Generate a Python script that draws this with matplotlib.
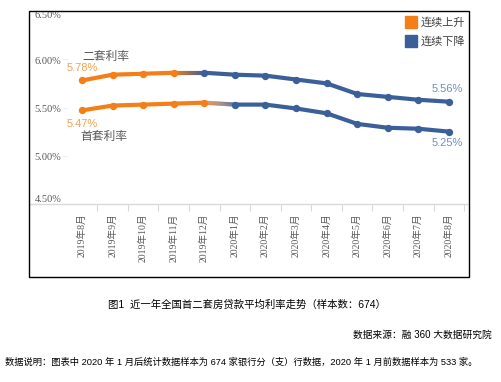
import matplotlib
matplotlib.use("Agg")
import matplotlib.pyplot as plt
import numpy as np
from matplotlib.collections import LineCollection
from matplotlib.patches import Rectangle
from matplotlib.colors import to_rgb
from matplotlib.transforms import offset_copy

plt.rcParams['font.family'] = ['Liberation Sans', 'Noto Sans CJK SC']

months = ["2019年8月", "2019年9月", "2019年10月", "2019年11月", "2019年12月",
          "2020年1月", "2020年2月", "2020年3月", "2020年4月", "2020年5月",
          "2020年6月", "2020年7月", "2020年8月"]
second_rate = [5.78, 5.84, 5.85, 5.86, 5.86, 5.84, 5.83, 5.79, 5.75, 5.64, 5.61, 5.58, 5.56]
first_rate = [5.47, 5.52, 5.53, 5.54, 5.55, 5.53, 5.53, 5.49, 5.44, 5.33, 5.29, 5.28, 5.25]
# last index of the "rising" stretch for each series
second_peak = 3
first_peak = 4
yticks = [4.5, 5.0, 5.5, 6.0, 6.5]

ORANGE = "#F47E17"
BLUE = "#3B5F98"
ORANGE_TXT = "#F5A150"
BLUE_TXT = "#7090C0"
GREY_TXT = "#595959"

fig = plt.figure(figsize=(5.01, 3.82), dpi=100)
W, H = 501, 382
ax = fig.add_axes([29 / W, 1 - 204 / H, 438 / W, 193 / H])


def draw_series(vals, k):
    x = np.arange(len(vals))
    y = np.array(vals)
    ax.plot(x[:k + 1], y[:k + 1], color=ORANGE, lw=3, solid_capstyle='round', zorder=3)
    ax.plot(x[k + 1:], y[k + 1:], color=BLUE, lw=3, solid_capstyle='round', zorder=3)
    # colour blend on the turning segment
    n = 30
    t = np.linspace(0, 1, n + 1)
    xs = x[k] + t * (x[k + 1] - x[k])
    ys = y[k] + t * (y[k + 1] - y[k])
    segs = [[(xs[i], ys[i]), (xs[i + 1], ys[i + 1])] for i in range(n)]
    c0, c1 = np.array(to_rgb(ORANGE)), np.array(to_rgb(BLUE))
    cols = [c0 + (c1 - c0) * ((i + 0.5) / n) for i in range(n)]
    ax.add_collection(LineCollection(segs, colors=cols, linewidths=3, zorder=3))
    ax.scatter(x[:k + 1], y[:k + 1], s=28, color=ORANGE, zorder=4, lw=0)
    ax.scatter(x[k + 1:], y[k + 1:], s=28, color=BLUE, zorder=4, lw=0)


draw_series(second_rate, second_peak)
draw_series(first_rate, first_peak)

ax.set_xlim(-1.73, 12.59)
ax.set_ylim(4.5, 6.5)
ax.set_yticks(yticks)
ax.set_yticklabels([])
ax.tick_params(axis='y', length=0)
# y labels drawn inside the plot, ends nudged inward
for v in yticks:
    va = 'top' if v == yticks[-1] else ('bottom' if v == yticks[0] else 'center')
    dy = 0 if v in (yticks[0], yticks[-1]) else -2
    tr = offset_copy(ax.get_yaxis_transform(), fig=fig, x=0, y=dy, units='dots')
    ax.text(0.012, v, f"{v:.2f}%", transform=tr, family=['Liberation Serif'],
            fontsize=7.5, color=GREY_TXT, ha='left', va=va)
    ax.plot([0.077, 0.087], [v, v], transform=ax.get_yaxis_transform(),
            color='#EEEEEE', lw=0.8)

ax.set_xticks(np.arange(len(months)))
ax.set_xticklabels(months, rotation=90, fontsize=7,
                   family=['Liberation Serif', 'Noto Sans CJK SC'], color=GREY_TXT)
ax.set_xticks(np.arange(len(months)) + 0.5, minor=True)
ax.tick_params(axis='x', which='major', length=0, pad=7)
ax.tick_params(axis='x', which='minor', length=5, color='#D9D9D9', width=0.8)
for s in ['top', 'right', 'left']:
    ax.spines[s].set_visible(False)
ax.spines['bottom'].set_color('#D9D9D9')
ax.spines['bottom'].set_linewidth(1)
ax.patch.set_alpha(0)

# end labels
ax.annotate(f"{second_rate[0]:.2f}%", (0, second_rate[0]), xytext=(0, 9), textcoords='offset points',
            ha='center', va='center', fontsize=8, color=ORANGE_TXT)
ax.annotate("二套利率", (0, second_rate[0]), xytext=(17, 17), textcoords='offset points',
            ha='center', va='center', fontsize=8.5, color=GREY_TXT)
ax.annotate(f"{first_rate[0]:.2f}%", (0, first_rate[0]), xytext=(0, -9.5), textcoords='offset points',
            ha='center', va='center', fontsize=8, color=ORANGE_TXT)
ax.annotate("首套利率", (0, first_rate[0]), xytext=(16, -19), textcoords='offset points',
            ha='center', va='center', fontsize=8.5, color=GREY_TXT)
ax.annotate(f"{second_rate[-1]:.2f}%", (12, second_rate[-1]), xytext=(-1.5, 9), textcoords='offset points',
            ha='center', va='center', fontsize=8, color=BLUE_TXT)
ax.annotate(f"{first_rate[-1]:.2f}%", (12, first_rate[-1]), xytext=(-1.5, -8.5), textcoords='offset points',
            ha='center', va='center', fontsize=8, color=BLUE_TXT)

# legend
for i, (lab, col) in enumerate([("连续上升", ORANGE), ("连续下降", BLUE)]):
    yy = 1 - (16 + i * 19) / H
    fig.patches.append(Rectangle((405 / W, yy - 12 / H), 12 / W, 12 / H, color=col,
                                 transform=fig.transFigure, figure=fig))
    fig.text(421 / W, yy - 6 / H, lab, fontsize=8, color='#404040', va='center', ha='left')

# outer frame
fig.patches.append(Rectangle((28.5 / W, 1 - 276.5 / H), 440 / W, 266 / H, fill=False,
                             edgecolor='black', lw=1, transform=fig.transFigure, figure=fig))

fig.text(247 / W, 1 - 305 / H, "图1  近一年全国首二套房贷款平均利率走势（样本数：674）",
         ha='center', va='center', fontsize=7.5, color='black')
fig.text(492 / W, 1 - 335 / H, "数据来源：融 360 大数据研究院",
         ha='right', va='center', fontsize=7, color='black')
fig.text(5 / W, 1 - 362 / H,
         "数据说明：图表中 2020 年 1 月后统计数据样本为 674 家银行分（支）行数据，2020 年 1 月前数据样本为 533 家。",
         ha='left', va='center', fontsize=6.7, color='black')

fig.savefig("out.png", dpi=100)
